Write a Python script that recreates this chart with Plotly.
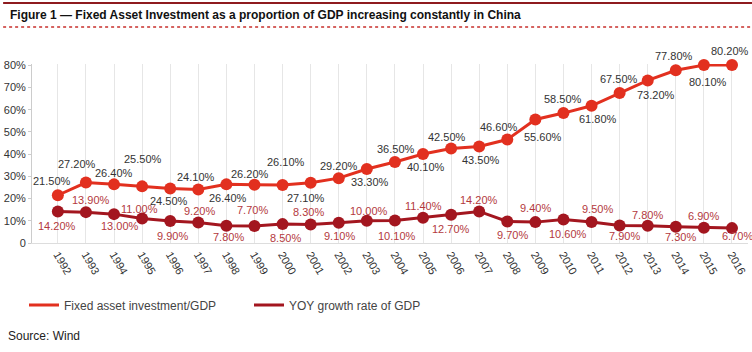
import plotly.graph_objects as go

years = list(range(1992, 2017))
year_labels = [str(y) for y in years]
fai_gdp = [21.5, 27.2, 26.4, 25.5, 24.5, 24.1, 26.4, 26.2, 26.1, 27.1, 29.2, 33.3, 36.5,
           40.1, 42.5, 43.5, 46.6, 55.6, 58.5, 61.8, 67.5, 73.2, 77.8, 80.1, 80.2]
gdp_yoy = [14.2, 13.9, 13.0, 11.0, 9.9, 9.2, 7.8, 7.7, 8.5, 8.3, 9.1, 10.0, 10.1,
           11.4, 12.7, 14.2, 9.7, 9.4, 10.6, 9.5, 7.9, 7.8, 7.3, 6.9, 6.7]
y_ticks = [0, 10, 20, 30, 40, 50, 60, 70, 80]
y_tick_labels = ["0", "10%", "20%", "30%", "40%", "50%", "60%", "70%", "80%"]

# label offsets (pixels) relative to the points
fai_dy = [14, 19, 11, 27, -12, 12, -14, 11, 23, -15, 12, -13, 13, -13, 12, -14, 13, -17,
          14, -13, 14, -15, 14, -17, 14]
fai_dx = [-6, -9, 0, 1, -1, -2, 2, -4, 3, -5, 0, 3, 1, 3, -4, 2, -8, 8, 0, 6, -1, 8, -2, 4, -2]
gdp_dy = [-15, 12, -12, 10, -15, 12, -11, 16, -14, 13, -13, 10, -15, 12, -14, 11, -14, 14,
          -15, 13, -11, 11, -10, 12, -8]
gdp_dx = [-1, 5, 6, -3, 2, 1, 2, -2, 3, -2, 1, 2, 2, 0, 0, 0, 5, 0, 5, 6, 5, 0, 5, 0, 6]

FAI_COLOR = "#e2301f"
GDP_COLOR = "#a3161f"
FONT = "Liberation Sans, Arial, sans-serif"

fig = go.Figure()
fig.add_trace(go.Scatter(x=years, y=fai_gdp, mode="lines+markers", showlegend=False,
                         line=dict(color=FAI_COLOR, width=3),
                         marker=dict(size=12, color=FAI_COLOR), cliponaxis=False))
fig.add_trace(go.Scatter(x=years, y=gdp_yoy, mode="lines+markers", showlegend=False,
                         line=dict(color=GDP_COLOR, width=3),
                         marker=dict(size=12, color=GDP_COLOR), cliponaxis=False))
# legend entries (line only)
fig.add_trace(go.Scatter(x=[None], y=[None], mode="lines", name="Fixed asset investment/GDP",
                         line=dict(color=FAI_COLOR, width=3)))
fig.add_trace(go.Scatter(x=[None], y=[None], mode="lines", name="YOY growth rate of GDP",
                         line=dict(color=GDP_COLOR, width=3)))

annotations = []
for x, v, dy, dx in zip(years, fai_gdp, fai_dy, fai_dx):
    annotations.append(dict(x=x, y=v, text=f"{v:.2f}%", showarrow=False, yshift=dy, xshift=dx,
                            font=dict(size=11, color="#333333", family=FONT)))
for x, v, dy, dx in zip(years, gdp_yoy, gdp_dy, gdp_dx):
    annotations.append(dict(x=x, y=v, text=f"{v:.2f}%", showarrow=False, yshift=dy, xshift=dx,
                            font=dict(size=11, color="#b3393d", family=FONT)))

Y_TOP = 80.6
L, R, T, B = 29, 4, 64, 109
W, H = 752, 352
pw, ph = W - L - R, H - T - B


def px_x(p):
    return (p - L) / pw


def px_y(p):
    return (H - B - p) / ph


annotations.append(dict(xref="paper", yref="paper", x=px_x(3), y=px_y(336), xanchor="left",
                        yanchor="middle", text="Source: Wind", showarrow=False,
                        font=dict(size=12, color="#222222", family=FONT)))

shapes = [
    dict(type="line", xref="paper", yref="paper", x0=px_x(0), x1=px_x(W), y0=px_y(3), y1=px_y(3),
         line=dict(color="#8e1b1f", width=2)),
    dict(type="line", xref="paper", yref="paper", x0=px_x(0), x1=px_x(W), y0=px_y(27), y1=px_y(27),
         line=dict(color="#c8302c", width=1.5, dash="dot")),
]

fig.update_layout(
    width=W, height=H,
    margin=dict(l=L, r=R, t=T, b=B),
    paper_bgcolor="white", plot_bgcolor="white",
    font=dict(family=FONT, color="#333333"),
    title=dict(text="<b>Figure 1 — Fixed Asset Investment as a proportion of GDP increasing constantly in China</b>",
               x=10 / W, y=1 - 15 / H, xref="container", yref="container",
               xanchor="left", yanchor="middle", font=dict(size=12, color="#111111", family=FONT)),
    xaxis=dict(range=[1991.08, 2016.57], tickvals=years, ticktext=year_labels, tickangle=60,
               showgrid=True, gridcolor="#e6e6e6", gridwidth=1, zeroline=False,
               showline=True, linecolor="#dddddd", linewidth=1, ticks="",
               tickfont=dict(size=11, color="#333333", family=FONT), fixedrange=True),
    yaxis=dict(range=[0, Y_TOP], tickvals=y_ticks, ticktext=y_tick_labels, showgrid=False,
               zeroline=False, showline=True, linecolor="#cccccc", linewidth=1,
               ticks="outside", ticklen=3, tickcolor="#cccccc",
               tickfont=dict(size=11, color="#333333", family=FONT), fixedrange=True),
    legend=dict(orientation="h", xref="container", yref="container", x=24 / W, y=1 - 305 / H,
                xanchor="left", yanchor="middle", font=dict(size=12, color="#444444", family=FONT),
                entrywidth=180, entrywidthmode="pixels"),
    annotations=annotations,
    shapes=shapes,
)

fig.write_html("out.html")
